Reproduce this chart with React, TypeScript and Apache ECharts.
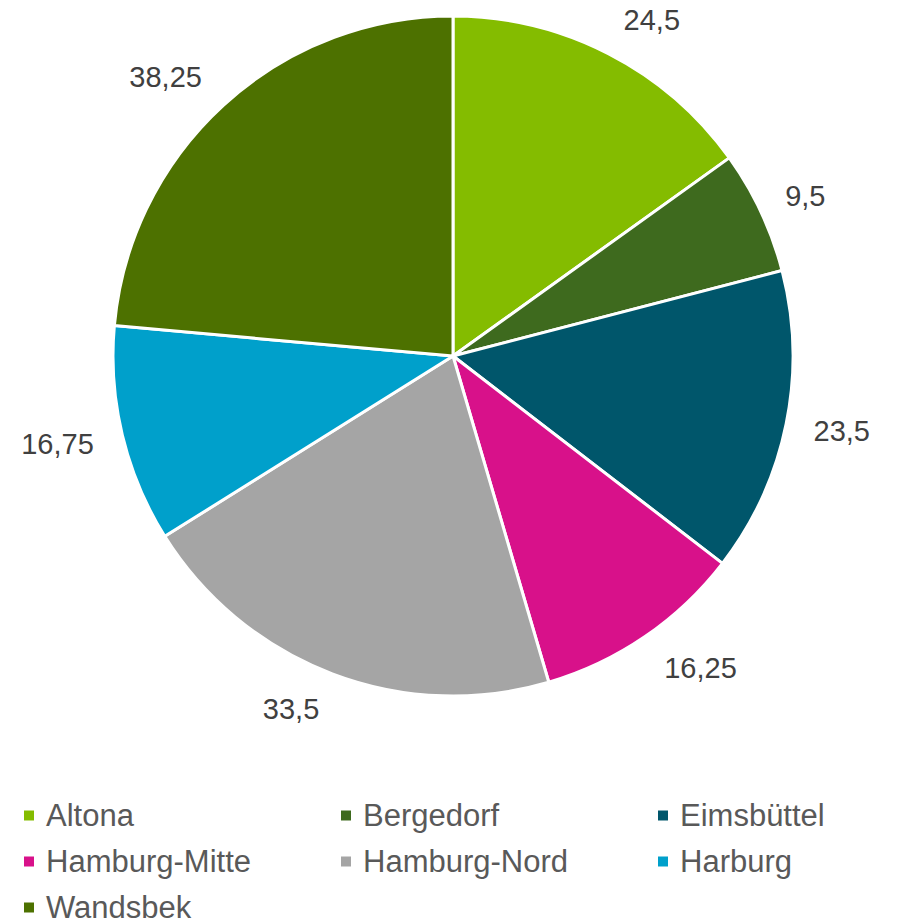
import React, { useEffect, useRef } from "react";
import * as echarts from "echarts";

const categories = ["Altona", "Bergedorf", "Eimsbüttel", "Hamburg-Mitte", "Hamburg-Nord", "Harburg", "Wandsbek"];
const values = [24.5, 9.5, 23.5, 16.25, 33.5, 16.75, 38.25];
const colors = ["#84bc00", "#3e6a1e", "#00566b", "#d8118a", "#a5a5a5", "#00a0cb", "#4d7100"];
const legendCol1 = ["Altona", "Hamburg-Mitte", "Wandsbek"];
const legendCol2 = ["Bergedorf", "Hamburg-Nord"];
const legendCol3 = ["Eimsbüttel", "Harburg"];

const CX = 453;
const CY = 356;
const R = 340;
const LABEL_R = 363;

const fmt = (v: number) => String(v).replace(".", ",");

export default function App() {
  const ref = useRef<HTMLDivElement>(null);
  useEffect(() => {
    document.body.style.margin = "0";
    const chart = echarts.init(ref.current!, null, { renderer: "svg" });
    const total = values.reduce((a, b) => a + b, 0);
    const mids: number[] = [];
    let cum = 0;
    values.forEach((v) => {
      mids.push(((cum + v / 2) / total) * Math.PI * 2);
      cum += v;
    });
    const font = "'Liberation Sans', Arial, sans-serif";
    const legendBase = {
      orient: "vertical" as const,
      top: 800,
      height: 160,
      padding: 0,
      itemGap: 15,
      itemWidth: 12,
      itemHeight: 12,
      icon: "rect",
      textStyle: { fontSize: 31, lineHeight: 30, color: "#595959", fontFamily: font, padding: [0, 0, 0, 6] },
      selectedMode: false,
    };
    chart.setOption({
      animation: false,
      color: colors,
      legend: [
        { ...legendBase, left: 22, data: legendCol1 },
        { ...legendBase, left: 339, data: legendCol2 },
        { ...legendBase, left: 656, data: legendCol3 },
      ],
      series: [
        {
          type: "pie",
          center: [CX, CY],
          radius: [0, R],
          startAngle: 90,
          clockwise: true,
          data: categories.map((c, i) => ({ name: c, value: values[i] })),
          itemStyle: { borderColor: "#ffffff", borderWidth: 3 },
          label: {
            show: true,
            position: "outside",
            formatter: (p: any) => fmt(p.value),
            fontSize: 29,
            color: "#404040",
            fontFamily: font,
            overflow: "none",
          },
          labelLine: { show: false },
          labelLayout: (params: any) => {
            const a = mids[params.dataIndex];
            const s = Math.sin(a);
            const c = Math.cos(a);
            const w = params.labelRect ? params.labelRect.width : 60;
            const h = 29;
            return {
              x: CX + LABEL_R * s + Math.sign(s) * (w / 2) * 1.17,
              y: CY - (LABEL_R + h / 2) * c,
              align: "center",
              verticalAlign: "middle",
            };
          },
          emphasis: { disabled: true },
        },
      ],
    });
    return () => chart.dispose();
  }, []);
  return <div ref={ref} style={{ width: 897, height: 921 }} />;
}
